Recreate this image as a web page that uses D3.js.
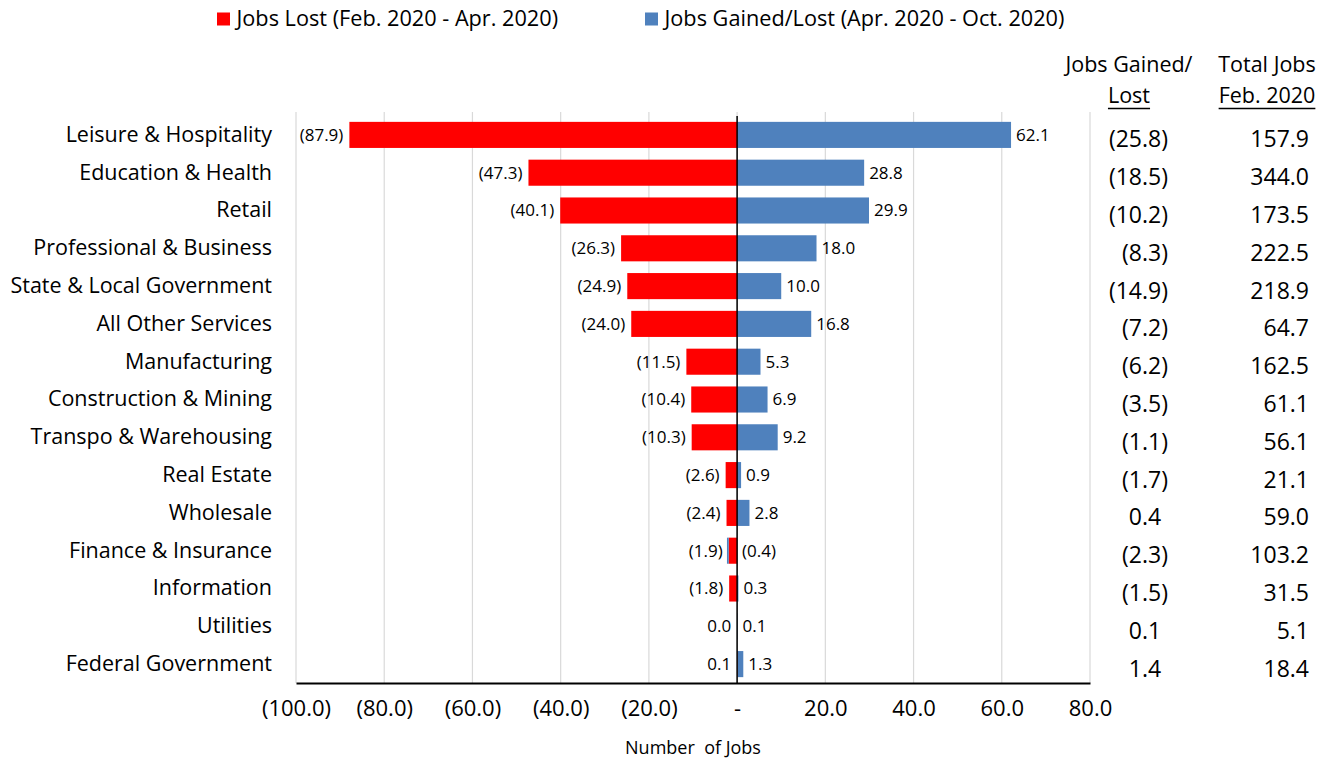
<!DOCTYPE html>
<html>
<head>
<meta charset="utf-8">
<script src="https://cdn.jsdelivr.net/npm/d3@7"></script>
<style>
  html, body { margin: 0; padding: 0; background: #fff; }
  svg { display: block; font-family: "Open Sans", "DejaVu Sans", sans-serif; }
</style>
</head>
<body>
<svg id="chart" width="1321" height="758"></svg>
<script>
// ---- Data ----
const categories = [
  "Leisure & Hospitality", "Education & Health", "Retail", "Professional & Business",
  "State & Local Government", "All Other Services", "Manufacturing", "Construction & Mining",
  "Transpo & Warehousing", "Real Estate", "Wholesale", "Finance & Insurance",
  "Information", "Utilities", "Federal Government"
];
const jobsLost = [-87.9, -47.3, -40.1, -26.3, -24.9, -24.0, -11.5, -10.4, -10.3, -2.6, -2.4, -1.9, -1.8, 0.0, 0.1];
const jobsGained = [62.1, 28.8, 29.9, 18.0, 10.0, 16.8, 5.3, 6.9, 9.2, 0.9, 2.8, -0.4, 0.3, 0.1, 1.3];
const netChange = [-25.8, -18.5, -10.2, -8.3, -14.9, -7.2, -6.2, -3.5, -1.1, -1.7, 0.4, -2.3, -1.5, 0.1, 1.4];
const totalFeb2020 = [157.9, 344.0, 173.5, 222.5, 218.9, 64.7, 162.5, 61.1, 56.1, 21.1, 59.0, 103.2, 31.5, 5.1, 18.4];
const xTicks = [-100, -80, -60, -40, -20, 0, 20, 40, 60, 80];
const seriesNames = ["Jobs Lost (Feb. 2020 - Apr. 2020)", "Jobs Gained/Lost (Apr. 2020 - Oct. 2020)"];
const seriesColors = ["#FF0000", "#4F81BD"];

// ---- Helpers ----
const fmt1 = d3.format(".1f");
const acct = v => v < 0 ? "(" + fmt1(-v) + ")" : fmt1(v);
const axisFmt = v => v === 0 ? "-" : acct(v);

const rows = categories.map((c, i) => ({ cat: c, lost: jobsLost[i], gained: jobsGained[i] }));

const svg = d3.select("#chart");
const pLeft = 296, pRight = 1090, pTop = 116, pBottom = 683;

const x = d3.scaleLinear().domain([-100, 80]).range([pLeft, pRight]);
const y = d3.scaleBand().domain(categories).range([pTop, pBottom]).paddingInner(0.31).paddingOuter(0.155);

// gridlines
svg.append("g").selectAll("line").data(xTicks).join("line")
  .attr("x1", d => x(d)).attr("x2", d => x(d))
  .attr("y1", pTop - 4).attr("y2", pBottom)
  .attr("stroke", "#d9d9d9").attr("stroke-width", 1.2);

// stacked bars
const stack = d3.stack().keys(["lost", "gained"]).offset(d3.stackOffsetDiverging);
const series = stack(rows);

const gBars = svg.append("g");
series.forEach((s, si) => {
  gBars.append("g").selectAll("rect").data(s).join("rect")
    .attr("x", d => x(Math.min(d[0], d[1])))
    .attr("width", d => Math.abs(x(d[1]) - x(d[0])))
    .attr("y", d => y(d.data.cat))
    .attr("height", y.bandwidth())
    .attr("fill", seriesColors[si]);
});

// data labels
const gLab = svg.append("g").attr("font-size", 17).attr("fill", "#000");
gLab.append("g").selectAll("text").data(series[0]).join("text")
  .attr("x", d => Math.min(x(d[0]), x(d[1]), x(0)) - 6)
  .attr("y", d => y(d.data.cat) + y.bandwidth() / 2)
  .attr("dy", "0.35em")
  .attr("text-anchor", "end")
  .text(d => acct(d.data.lost));
gLab.append("g").selectAll("text").data(series[1]).join("text")
  .attr("x", d => Math.max(x(d[0]), x(d[1]), x(0)) + 5)
  .attr("y", d => y(d.data.cat) + y.bandwidth() / 2)
  .attr("dy", "0.35em")
  .attr("text-anchor", "start")
  .text(d => acct(d.data.gained));

// zero line
svg.append("line")
  .attr("x1", x(0)).attr("x2", x(0)).attr("y1", pTop).attr("y2", pBottom)
  .attr("stroke", "#000").attr("stroke-width", 1.5);

// bottom axis
const xAxis = d3.axisBottom(x).tickValues(xTicks).tickFormat(axisFmt).tickSize(0).tickPadding(17.5);
const gx = svg.append("g").attr("transform", `translate(0,${pBottom})`).call(xAxis);
gx.select(".domain").attr("stroke", "#000").attr("stroke-width", 1.8);
gx.selectAll("text").attr("font-size", 22).attr("font-family", "Open Sans").attr("fill", "#000");

svg.append("text")
  .attr("x", (pLeft + pRight) / 2).attr("y", 754)
  .attr("text-anchor", "middle").attr("font-size", 18)
  .style("white-space", "pre")
  .text("Number  of Jobs");

// category axis labels
const yAxis = d3.axisLeft(y).tickSize(0).tickPadding(0);
const gy = svg.append("g").attr("transform", `translate(272,0)`).call(yAxis);
gy.select(".domain").remove();
gy.selectAll("text").attr("font-size", 21.5).attr("font-family", "Open Sans").attr("fill", "#000");

// right table
const gTab = svg.append("g").attr("font-size", 23).attr("fill", "#000");
gTab.selectAll("text.net").data(categories).join("text")
  .attr("class", "net")
  .attr("x", 1168)
  .attr("y", (d) => y(d) + y.bandwidth() / 2 + 4.5)
  .attr("dy", "0.35em")
  .attr("text-anchor", "end")
  .each(function (d, i) {
    const t = d3.select(this);
    const v = netChange[i];
    t.append("tspan").text(acct(v));
    if (v >= 0) t.append("tspan").attr("fill-opacity", 0).text(")");
  });
gTab.selectAll("text.tot").data(categories).join("text")
  .attr("class", "tot")
  .attr("x", 1309)
  .attr("y", (d) => y(d) + y.bandwidth() / 2 + 4.5)
  .attr("dy", "0.35em")
  .attr("text-anchor", "end")
  .text((d, i) => fmt1(totalFeb2020[i]));

// table headers
const gHead = svg.append("g").attr("font-size", 21.5).attr("fill", "#000");
gHead.append("text").attr("x", 1129).attr("y", 72).attr("text-anchor", "middle").text("Jobs Gained/");
gHead.append("text").attr("x", 1129).attr("y", 103).attr("text-anchor", "middle").text("Lost");
gHead.append("text").attr("x", 1267).attr("y", 72).attr("text-anchor", "middle").text("Total Jobs");
gHead.append("text").attr("x", 1267).attr("y", 103).attr("text-anchor", "middle").text("Feb. 2020");
[["Lost", 1129], ["Feb. 2020", 1267]].forEach(([t, cx]) => {
  const node = gHead.selectAll("text").filter(function () { return d3.select(this).text() === t; }).node();
  const w = node.getComputedTextLength();
  gHead.append("line").attr("x1", cx - w / 2).attr("x2", cx + w / 2)
    .attr("y1", 108.5).attr("y2", 108.5).attr("stroke", "#000").attr("stroke-width", 1.3);
});

// legend
const legendX = [217, 645];
const gLeg = svg.append("g");
seriesNames.forEach((n, i) => {
  gLeg.append("rect").attr("x", legendX[i]).attr("y", 12.5).attr("width", 13).attr("height", 13).attr("fill", seriesColors[i]);
  gLeg.append("text").attr("x", legendX[i] + 19.5).attr("y", 26)
    .attr("font-size", 21.7).attr("fill", "#000").text(n);
});
</script>
</body>
</html>
